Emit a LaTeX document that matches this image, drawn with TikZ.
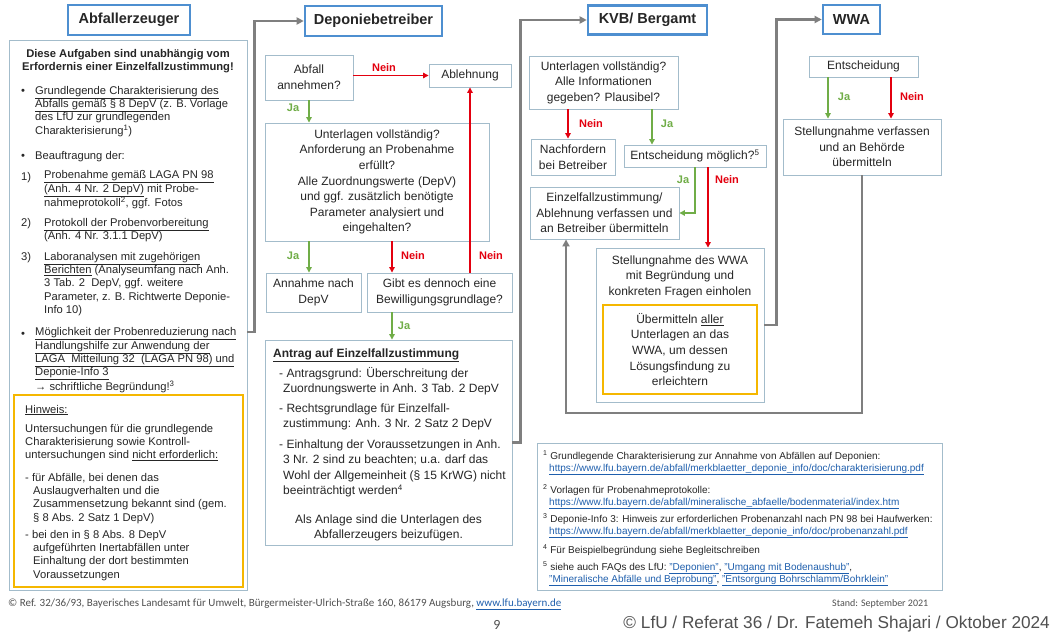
\documentclass[tikz,border=0pt]{standalone}
\usepackage{fontspec}
\setmainfont{Liberation Sans}
\newfontfamily\carlitofont{Carlito}
\usetikzlibrary{arrows.meta}
\definecolor{txt}{HTML}{262626}
\definecolor{boxc}{HTML}{A3BCCB}
\definecolor{hdrc}{HTML}{4E8FD0}
\definecolor{yel}{HTML}{F5B700}
\definecolor{conc}{HTML}{7F7F7F}
\definecolor{jac}{HTML}{70AD47}
\definecolor{neinc}{HTML}{E3000F}
\definecolor{linkc}{HTML}{1F5FAD}
\definecolor{footc}{HTML}{505050}
\newcommand\fsMid{\fontsize{12}{15.6}\selectfont}
\newcommand\fsLeft{\fontsize{11.2}{13.4}\selectfont}
\newcommand\fsHdr{\fontsize{14.5}{17}\selectfont\bfseries}
\newcommand\fsLab{\fontsize{11}{13}\selectfont\bfseries}
\newcommand\fsNote{\fontsize{10}{12}\selectfont}
\newcommand\lnk[1]{{\color{linkc}\underline{#1}}}
\tikzset{
  box/.style={draw=boxc, line width=0.9pt, fill=white, align=center, inner sep=0pt, font=\fsMid, text=txt},
  hdr/.style={draw=hdrc, line width=2.6pt, fill=white, inner sep=0pt, font=\fsHdr, text=txt},
  ybox/.style={draw=yel, line width=2.4pt, inner sep=0pt, align=center, font=\fsMid, text=txt},
  conn/.style={draw=conc, line width=2.6pt, line join=miter, -{Triangle[length=7pt,width=7pt]}},
  jaarr/.style={draw=jac, line width=1.2pt, -{Triangle[length=5.5pt,width=5.5pt]}},
  neinarr/.style={draw=neinc, line width=1.2pt, -{Triangle[length=5.5pt,width=5.5pt]}},
  jal/.style={text=jac, font=\fsLab, inner sep=0pt},
  neinl/.style={text=neinc, font=\fsLab, inner sep=0pt},
  lt/.style={anchor=base west, align=left, inner sep=0pt, font=\fsLeft, text=txt},
  mt/.style={anchor=base west, align=left, inner sep=0pt, font=\fsMid, text=txt},
  nt/.style={anchor=base west, align=left, inner sep=0pt, font=\fsNote, text=txt},
}
\begin{document}
\begin{tikzpicture}[x=1pt,y=-1pt]
\fill[white] (0,0) rectangle (1054,634);
\useasboundingbox (0,0) rectangle (1054,634);

% ---------- headers
\node[hdr, minimum width=122pt, minimum height=30pt] (hab) at (129,20) {Abfallerzeuger};
\node[hdr, minimum width=137pt, minimum height=30pt] (dep) at (373.5,21) {Deponiebetreiber};
\node[hdr, minimum width=119pt, minimum height=29pt] (kvb) at (647.5,20) {KVB/ Bergamt};
\node[hdr, minimum width=57pt, minimum height=29pt] (wwa) at (851.5,19.5) {WWA};

% ---------- Abfallerzeuger column (multi-line nodes anchored at last baseline)
\node[box, minimum width=238pt, minimum height=550pt] (abf) at (128,315) {};
\node[font=\fsLeft\bfseries, text=txt, align=center, anchor=base, inner sep=0pt] (abfh) at (128,70.4)
  {Diese Aufgaben sind unabhängig vom\\Erfordernis einer Einzelfallzustimmung!};
\node[lt] (bu1) at (21,94) {•};
\node[lt] (it1) at (35,134.2) {\underline{Grundlegende Charakterisierung des}\\
  \underline{Abfalls gemäß § 8 DepV} (z. B. Vorlage\\des LfU zur grundlegenden\\Charakterisierung\textsuperscript{1})};
\node[lt] (bu2) at (21,159) {•};
\node[lt] (it2) at (35,159) {Beauftragung der:};
\node[lt] (n1) at (21,180) {1)};
\node[lt] (it3) at (44,206.8) {\underline{Probenahme gemäß LAGA PN 98}\\
  \underline{(Anh. 4 Nr. 2 DepV)} mit Probe-\\nahmeprotokoll\textsuperscript{2}, ggf. Fotos};
\node[lt] (n2) at (21,226) {2)};
\node[lt] (it4) at (44,239.4) {\underline{Protokoll der Probenvorbereitung}\\(Anh. 4 Nr. 3.1.1 DepV)};
\node[lt] (n3) at (21,260) {3)};
\node[lt] (it5) at (44,313.6) {\underline{Laboranalysen mit zugehörigen}\\
  \underline{Berichten} (Analyseumfang nach Anh.\\3 Tab. 2\ \ DepV, ggf. weitere\\Parameter, z. B. Richtwerte Deponie-\\Info 10)};
\node[lt] (bu3) at (21,337) {•};
\node[lt] (it6) at (35,390.6) {\underline{Möglichkeit der Probenreduzierung nach}\\
  \underline{Handlungshilfe zur Anwendung der}\\
  \underline{LAGA\ \ Mitteilung 32\ \ (LAGA PN 98) und}\\
  \underline{Deponie-Info 3}\\
  → schriftliche Begründung!\textsuperscript{3}};
\node[ybox, minimum width=229pt, minimum height=192pt] (hin) at (128.5,491) {};
\node[lt] (hin1) at (25,413) {\underline{Hinweis:}};
\node[lt] (hin2) at (25,458.8) {Untersuchungen für die grundlegende\\Charakterisierung sowie Kontroll-\\
  untersuchungen sind \underline{nicht erforderlich:}};
\node[lt] (hin3) at (25,521.2) {- für Abfälle, bei denen das\\\hspace*{8pt}Auslaugverhalten und die\\
  \hspace*{8pt}Zusammensetzung bekannt sind (gem.\\\hspace*{8pt}§ 8 Abs. 2 Satz 1 DepV)};
\node[lt] (hin4) at (25,578.2) {- bei den in § 8 Abs. 8 DepV\\\hspace*{8pt}aufgeführten Inertabfällen unter\\
  \hspace*{8pt}Einhaltung der dort bestimmten\\\hspace*{8pt}Voraussetzungen};

% ---------- Deponiebetreiber column
\node[box, minimum width=88pt, minimum height=45pt] (abfb) at (309,77.5) {Abfall\\annehmen?};
\node[box, minimum width=82pt, minimum height=23pt] (abl) at (470,75.5) {Ablehnung};
\node[box, minimum width=224pt, minimum height=118pt] (unt) at (377,182) {Unterlagen vollständig?\\
  Anforderung an Probenahme\\erfüllt?\\Alle Zuordnungswerte (DepV)\\und ggf. zusätzlich benötigte\\
  Parameter analysiert und\\eingehalten?};
\node[box, minimum width=95pt, minimum height=39pt] (ann) at (313.5,292.5) {Annahme nach\\DepV};
\node[box, minimum width=145pt, minimum height=39pt] (gib) at (439.5,292.5) {Gibt es dennoch eine\\Bewilligungsgrundlage?};
\node[box, minimum width=247pt, minimum height=205pt] (ant) at (388.5,442.5) {};
\node[mt] (ant0) at (273,357) {\textbf{\underline{Antrag auf Einzelfallzustimmung}}};
\node[mt] (ant1) at (279,392.6) {- Antragsgrund: Überschreitung der\\\hspace*{4pt}Zuordnungswerte in Anh. 3 Tab. 2 DepV};
\node[mt] (ant2) at (279,427.6) {- Rechtsgrundlage für Einzelfall-\\\hspace*{4pt}zustimmung: Anh. 3 Nr. 2 Satz 2 DepV};
\node[mt] (ant3) at (279,494.8) {- Einhaltung der Voraussetzungen in Anh.\\\hspace*{4pt}3 Nr. 2 sind zu beachten; u.a. darf das\\
  \hspace*{4pt}Wohl der Allgemeinheit (§ 15 KrWG) nicht\\\hspace*{4pt}beeinträchtigt werden\textsuperscript{4}};
\node[font=\fsMid, text=txt, align=center, anchor=base, inner sep=0pt] (ant4) at (388.5,538.6)
  {Als Anlage sind die Unterlagen des\\Abfallerzeugers beizufügen.};

\draw[neinarr] (abl.west -| abfb.east) -- (abl.west);
\node[neinl] (l1) at (384,68) {Nein};
\draw[jaarr] (abfb.south) -- (abfb.south |- unt.north);
\node[jal] (l2) at (293,108) {Ja};
\draw[jaarr] (abfb.south |- unt.south) -- (abfb.south |- ann.north);
\node[jal] (l3) at (293,256) {Ja};
\draw[neinarr] ([xshift=-47.5pt]gib.north |- unt.south) -- ([xshift=-47.5pt]gib.north);
\node[neinl] (l4) at (413,256) {Nein};
\draw[neinarr] (gib.north -| abl.south) -- (abl.south);
\node[neinl] (l5) at (491,256) {Nein};
\draw[jaarr] ([xshift=-47.5pt]gib.south) -- ([xshift=-47.5pt]gib.south |- ant.north);
\node[jal] (l6) at (404,326) {Ja};

% ---------- KVB column
\node[box, minimum width=149pt, minimum height=53pt] (kun) at (603.5,82.5) {Unterlagen vollständig?\\Alle Informationen\\gegeben? Plausibel?};
\node[box, minimum width=84pt, minimum height=36pt] (nach) at (573,157) {Nachfordern\\bei Betreiber};
\node[box, minimum width=142pt, minimum height=22pt] (emo) at (695,156) {Entscheidung möglich?\textsuperscript{5}};
\node[box, minimum width=149pt, minimum height=52pt] (ezf) at (604.5,213) {Einzelfallzustimmung/\\Ablehnung verfassen und\\an Betreiber übermitteln};
\node[box, minimum width=168pt, minimum height=154pt] (stw) at (680,325) {};
\node[font=\fsMid, text=txt, align=center, anchor=base, inner sep=0pt] (stwt) at (680,295.2)
  {Stellungnahme des WWA\\mit Begründung und\\konkreten Fragen einholen};
\node[ybox, minimum width=154pt, minimum height=89pt] (ueb) at (680,349.5)
  {Übermitteln \underline{aller}\\Unterlagen an das\\WWA, um dessen\\Lösungsfindung zu\\erleichtern};

\draw[neinarr] ([xshift=-5pt]nach.north |- kun.south) -- ([xshift=-5pt]nach.north);
\node[neinl] (l7) at (591,124) {Nein};
\draw[jaarr] ([xshift=-43pt]emo.north |- kun.south) -- ([xshift=-43pt]emo.north);
\node[jal] (l8) at (667,124) {Ja};
\draw[jaarr] (emo.south) |- (ezf.east);
\node[jal] (l9) at (683,180) {Ja};
\draw[neinarr] ([xshift=13pt]emo.south) -- ([xshift=13pt]emo.south |- stw.north);
\node[neinl] (l10) at (727,180) {Nein};

% ---------- WWA column
\node[box, minimum width=109pt, minimum height=21pt] (ent) at (863.5,66.5) {Entscheidung};
\node[box, minimum width=158pt, minimum height=56pt] (wst) at (862,147) {Stellungnahme verfassen\\und an Behörde\\übermitteln};
\draw[jaarr] ([xshift=-35.5pt]ent.south) -- ([xshift=-35.5pt]ent.south |- wst.north);
\node[jal] (l11) at (844,97) {Ja};
\draw[neinarr] ([xshift=27.5pt]ent.south) -- ([xshift=27.5pt]ent.south |- wst.north);
\node[neinl] (l12) at (912,97) {Nein};

% ---------- grey connectors
\draw[conn] ([yshift=-17pt]abf.east) -- ++(7,0) |- (dep.west);
\draw[conn] (ant.east) -- ++(8,0) |- (kvb.west);
\draw[conn] (stw.east) -- ++(12,0) |- (wwa.west);
\coordinate (r1) at (862,413);
\coordinate (r2) at (566,413);
\draw[conn] (wst.south) -- (r1) -- (r2) -- (r2 |- ezf.south);

% ---------- footnotes
\node[box, minimum width=405pt, minimum height=147pt] (fn) at (739.5,516.5) {};
\node[nt] (fn1) at (543,471) {\textsuperscript{1} Grundlegende Charakterisierung zur Annahme von Abfällen auf Deponien:\\
  \hspace*{6pt}\lnk{https://www.lfu.bayern.de/abfall/merkblaetter\_deponie\_info/doc/charakterisierung.pdf}};
\node[nt] (fn2) at (543,505) {\textsuperscript{2} Vorlagen für Probenahmeprotokolle:\\
  \hspace*{6pt}\lnk{https://www.lfu.bayern.de/abfall/mineralische\_abfaelle/bodenmaterial/index.htm}};
\node[nt] (fn3) at (543,534) {\textsuperscript{3} Deponie-Info 3: Hinweis zur erforderlichen Probenanzahl nach PN 98 bei Haufwerken:\\
  \hspace*{6pt}\lnk{https://www.lfu.bayern.de/abfall/merkblaetter\_deponie\_info/doc/probenanzahl.pdf}};
\node[nt] (fn4) at (543,553) {\textsuperscript{4} Für Beispielbegründung siehe Begleitschreiben};
\node[nt] (fn5) at (543,582) {\textsuperscript{5} siehe auch FAQs des LfU: \lnk{"Deponien"}, \lnk{"Umgang mit Bodenaushub"},\\
  \hspace*{6pt}\lnk{"Mineralische Abfälle und Beprobung"}, \lnk{"Entsorgung Bohrschlamm/Bohrklein"}};

% ---------- footer
\node[anchor=base west, inner sep=0pt, text=footc, font=\carlitofont\fontsize{11}{12}\selectfont] (ft1) at (8,606)
  {© Ref. 32/36/93, Bayerisches Landesamt für Umwelt, Bürgermeister-Ulrich-Straße 160, 86179 Augsburg, {\color{linkc}\underline{www.lfu.bayern.de}}};
\node[anchor=base west, inner sep=0pt, text=footc, font=\carlitofont\fontsize{10}{12}\selectfont] (ft2) at (832,606) {Stand: September 2021};
\node[anchor=base, inner sep=0pt, text=footc, font=\carlitofont\fontsize{14}{16}\selectfont] (pg) at (497,629) {9};
\node[anchor=base east, inner sep=0pt, text=footc, font=\fontsize{17.2}{20}\selectfont] (cpy) at (1050,628)
  {© LfU / Referat 36 / Dr. Fatemeh Shajari / Oktober 2024};
\end{tikzpicture}
\end{document}
